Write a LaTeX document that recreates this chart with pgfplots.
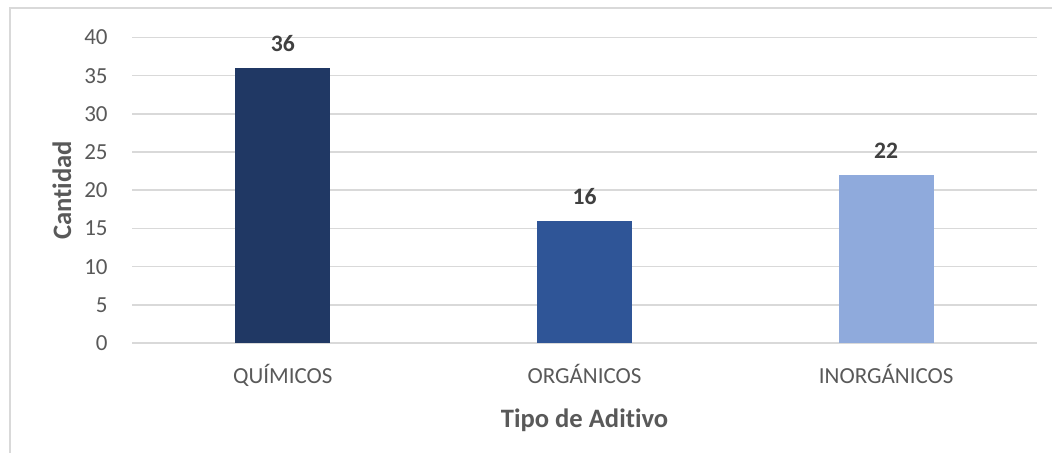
\documentclass[border=0pt]{standalone}
\usepackage{fontspec}
\setmainfont{Carlito}[Ligatures=NoCommon]
\usepackage{pgfplots}
\pgfplotsset{compat=1.18}
\definecolor{gridgray}{HTML}{D9D9D9}
\definecolor{ticktext}{HTML}{595959}
\definecolor{labeltext}{HTML}{404040}
\definecolor{barA}{HTML}{203864}
\definecolor{barB}{HTML}{2F5597}
\definecolor{barC}{HTML}{8FAADC}
\begin{document}
\begin{tikzpicture}
\useasboundingbox (-66pt,-55pt) rectangle (460pt,171.5pt);
\draw[gridgray, line width=0.75pt] (-61pt,-80pt) -- (-61pt,167.5pt) -- (480pt,167.5pt);
\begin{axis}[
  at={(0,0)}, anchor=south west,
  scale only axis,
  width=452.5pt, height=152.75pt,
  ybar, bar width=47.5pt, bar shift=0pt,
  xmin=-0.5, xmax=2.5, ymin=0, ymax=40,
  xtick={0,1,2},
  xticklabels={QUÍMICOS,ORGÁNICOS,INORGÁNICOS},
  ytick={0,5,...,40},
  major tick length=0pt,
  axis lines*=left,
  x axis line style={draw=gridgray, line width=0.75pt},
  y axis line style={draw=none},
  ymajorgrids, grid style={gridgray, line width=0.75pt},
  /pgf/number format/assume math mode=true,
  tick label style={font=\fontsize{11.5}{13}\selectfont, text=ticktext, inner sep=0pt},
  yticklabel style={anchor=east, xshift=-12pt},
  xticklabel style={anchor=base, yshift=-20.5pt},
  xlabel={Tipo de Aditivo},
  ylabel={Cantidad},
  label style={font=\fontsize{13.3}{15}\bfseries, text=ticktext},
  xlabel style={at={(axis description cs:0.5,0)}, anchor=base, yshift=-42.25pt},
  ylabel style={at={(axis description cs:0,0.5)}, anchor=center, yshift=35pt},
  nodes near coords,
  every node near coord/.append style={font=\fontsize{11.8}{13}\bfseries, text=labeltext, anchor=south, yshift=4.5pt},
  clip=false,
]
\addplot[fill=barA, draw=none] coordinates {(0,36)};
\addplot[fill=barB, draw=none] coordinates {(1,16)};
\addplot[fill=barC, draw=none] coordinates {(2,22)};
\end{axis}
\end{tikzpicture}
\end{document}
